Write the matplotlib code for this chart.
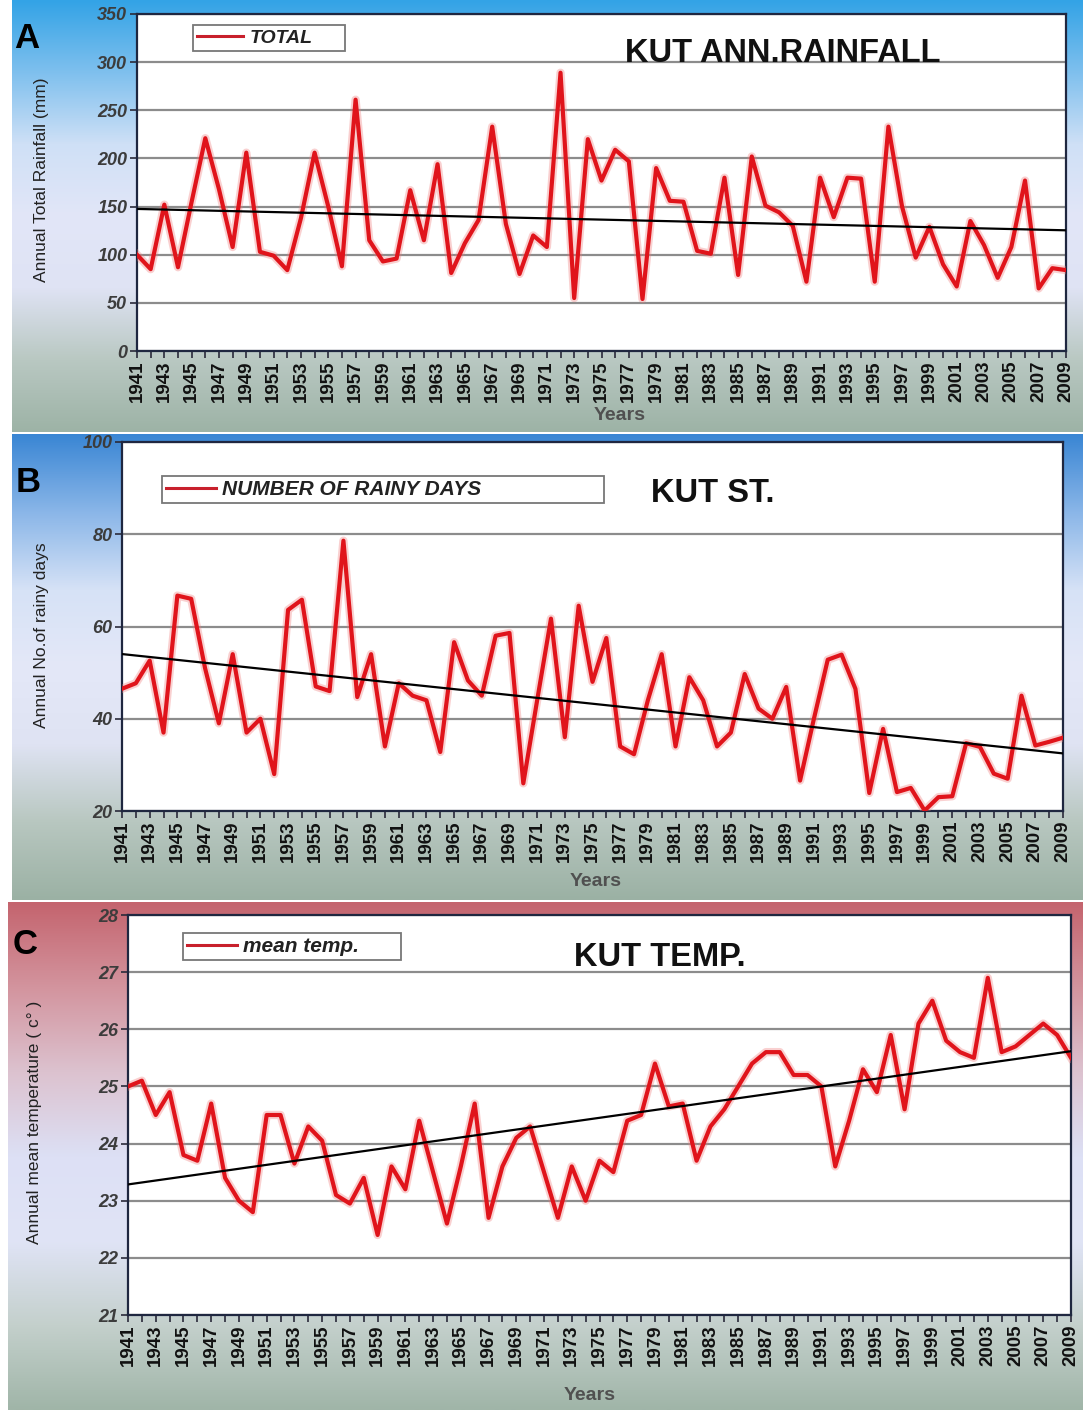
import numpy as np
import matplotlib
matplotlib.use("Agg")
import matplotlib.pyplot as plt
from matplotlib import font_manager
from matplotlib.colors import LinearSegmentedColormap

# data (Kut station, 1941-2009)
years = np.arange(1941, 2010)

rain_total = [100, 85, 152, 87, 155, 221, 168, 108, 206, 103,
              99, 84, 138, 206, 150, 88, 261, 115, 93, 96,
              167, 115, 194, 81, 112, 136, 233, 132, 80, 120,
              108, 289, 55, 220, 177, 209, 197, 54, 190, 156,
              155, 104, 101, 180, 79, 202, 151, 144, 130, 72,
              180, 139, 180, 179, 72, 233, 150, 97, 129, 90,
              67, 135, 110, 76, 108, 177, 65, 86, 84]

rainy_days = [46.5, 47.7, 52.6, 37, 66.7, 66, 51, 39, 54, 37,
              40, 28, 63.6, 65.8, 47, 46, 78.6, 44.7, 54, 34,
              47.7, 45, 44, 32.8, 56.6, 48.3, 45, 58, 58.6, 26,
              44, 61.7, 36, 64.5, 48, 57.5, 34, 32.3, 44, 54,
              34, 49, 44, 34, 37, 49.7, 42.2, 40, 46.9, 26.6,
              40, 52.8, 53.9, 46.5, 23.9, 37.8, 24.1, 25, 20.1, 23,
              23.2, 34.7, 33.9, 28.1, 27, 45, 34.2, 35, 35.9]

mean_temp = [25.0, 25.1, 24.5, 24.9, 23.8, 23.7, 24.7, 23.4, 23.0, 22.8,
             24.5, 24.5, 23.65, 24.3, 24.05, 23.1, 22.95, 23.4, 22.4, 23.6,
             23.2, 24.4, 23.5, 22.6, 23.6, 24.7, 22.7, 23.6, 24.1, 24.3,
             23.5, 22.7, 23.6, 23.0, 23.7, 23.5, 24.4, 24.5, 25.4, 24.65,
             24.7, 23.7, 24.3, 24.6, 25.0, 25.4, 25.6, 25.6, 25.2, 25.2,
             25.0, 23.6, 24.4, 25.3, 24.9, 25.9, 24.6, 26.1, 26.5, 25.8,
             25.6, 25.5, 26.9, 25.6, 25.7, 25.9, 26.1, 25.9, 25.5]

rain_ticks = [0, 50, 100, 150, 200, 250, 300, 350]
days_ticks = [20, 40, 60, 80, 100]
temp_ticks = [21, 22, 23, 24, 25, 26, 27, 28]

W, H = 1083, 1414
fig = plt.figure(figsize=(W / 100, H / 100), dpi=100)
fig.patch.set_facecolor("white")

installed = {f.name for f in font_manager.fontManager.ttflist}
HAS_NARROW = "Liberation Sans Narrow" in installed
NARROW = "Liberation Sans Narrow" if HAS_NARROW else "Liberation Sans"
SANS = "Liberation Sans"


def box(l, t, r, b):
    # pixel box -> figure fraction
    return [l / W, 1 - b / H, (r - l) / W, (b - t) / H]


def backdrop(rect, stops):
    bg = fig.add_axes(box(*rect), zorder=0)
    cmap = LinearSegmentedColormap.from_list("bg", stops)
    bg.imshow(np.linspace(0, 1, 256)[:, None], aspect="auto", cmap=cmap,
              extent=(0, 1, 0, 1))
    bg.set_axis_off()


def panel(rect, values, ylim, yticks, ylabel, ylabel_xy, leg_label, leg_box, leg_size,
          title, title_xy, letter, letter_xy, years_xy):
    ax = fig.add_axes(box(*rect), zorder=2)
    ax.set_facecolor("white")
    ax.plot(years, values, color="#f07a7a", lw=6, alpha=0.35, zorder=3)
    line, = ax.plot(years, values, color="#e0141b", lw=3, zorder=4,
                    label=leg_label)
    coef = np.polyfit(years, values, 1)
    ax.plot(years, np.polyval(coef, years), color="black", lw=1.6, zorder=5)

    ax.set_xlim(years[0], years[-1])
    ax.set_ylim(*ylim)
    ax.set_yticks(yticks)
    ax.set_yticklabels([str(v) for v in yticks], fontfamily=SANS, fontweight="bold",
                       fontstyle="italic", fontsize=13, color="#3c3c3c")
    ax.set_xticks(years[::2])
    ax.set_xticks(years, minor=True)
    ax.set_xticklabels([str(y) for y in years[::2]], rotation=90,
                       fontfamily=NARROW, fontweight="bold",
                       fontsize=15 if HAS_NARROW else 13.5, color="#111111")
    ax.tick_params(axis="both", which="both", direction="out", length=5,
                   width=1.2, color="#2a2a3a", pad=2)
    ax.yaxis.grid(True, color="#8c8c8c", lw=1.6)
    ax.set_axisbelow(True)
    for s in ax.spines.values():
        s.set_color("#1f2740")
        s.set_linewidth(1.6)

    # legend box stretched to the width it has in the picture
    x0, top, wid = leg_box
    leg = ax.legend(handles=[line], loc="upper left", bbox_to_anchor=(x0, 0, wid, top),
                    mode="expand", fancybox=False, edgecolor="#777777", framealpha=1,
                    handlelength=2.4, handletextpad=0.3, borderpad=0.2,
                    borderaxespad=0,
                    prop={"family": SANS, "style": "italic", "weight": "bold",
                          "size": leg_size})
    leg.get_frame().set_linewidth(1.3)
    leg.get_lines()[0].set_linewidth(2.2)
    leg.get_lines()[0].set_color("#c8202c")
    for t in leg.get_texts():
        t.set_color("#222222")

    fig.text(title_xy[0] / W, 1 - title_xy[1] / H, title, ha="center", va="center",
             fontfamily=SANS, fontweight="bold", fontsize=23.5, color="#111111",
             zorder=6)
    fig.text(letter_xy[0] / W, 1 - letter_xy[1] / H, letter, ha="center", va="center",
             fontfamily=SANS, fontweight="bold", fontsize=25, color="black", zorder=6)
    fig.text(years_xy[0] / W, 1 - years_xy[1] / H, "Years", ha="center", va="center",
             fontfamily=SANS, fontweight="bold", fontsize=14, color="#505050", zorder=6)
    fig.text(ylabel_xy[0] / W, 1 - ylabel_xy[1] / H, ylabel, ha="center", va="center",
             rotation=90, fontfamily=NARROW, fontsize=14 if HAS_NARROW else 12.5,
             color="#222222", zorder=6)
    return ax


# gradient backgrounds of the three pasted pictures
backdrop((12, 0, W, 432), ["#33a3e6", "#7fc0ee", "#cfe0f6", "#e2e6f8",
                           "#dfe3f4", "#b9c8c2", "#9db3a6"])
backdrop((12, 434, W, 900), ["#3a86d4", "#8ab6e8", "#d6e2f6", "#e4e8f8",
                             "#dfe3f3", "#b8c7c0", "#9bb1a4"])
backdrop((8, 902, W, 1410), ["#c4646e", "#d3949e", "#dcc2cf", "#dde0f5",
                             "#e0e4f6", "#c4d0cc", "#a0b5a8"])

panel((137, 14, 1066, 351), rain_total, (0, 350), rain_ticks,
      "Annual Total Rainfall (mm)", (42, 180), "TOTAL", (0.06, 0.967, 0.164), 14,
      "KUT ANN.RAINFALL", (783, 53), "A", (27, 38), (620, 416))

panel((122, 442, 1063, 811), rainy_days, (20, 100), days_ticks,
      "Annual No.of rainy days", (42, 635), "NUMBER OF RAINY DAYS",
      (0.0425, 0.908, 0.47), 15,
      "KUT ST.", (713, 493), "B", (28, 482), (596, 881))

panel((128, 915, 1071, 1315), mean_temp, (21, 28), temp_ticks,
      "Annual mean temperature ( c° )", (35, 1122), "mean temp.",
      (0.058, 0.955, 0.232), 15,
      "KUT TEMP.", (660, 958), "C", (25, 945), (590, 1395))

fig.savefig("out.png", dpi=100)
